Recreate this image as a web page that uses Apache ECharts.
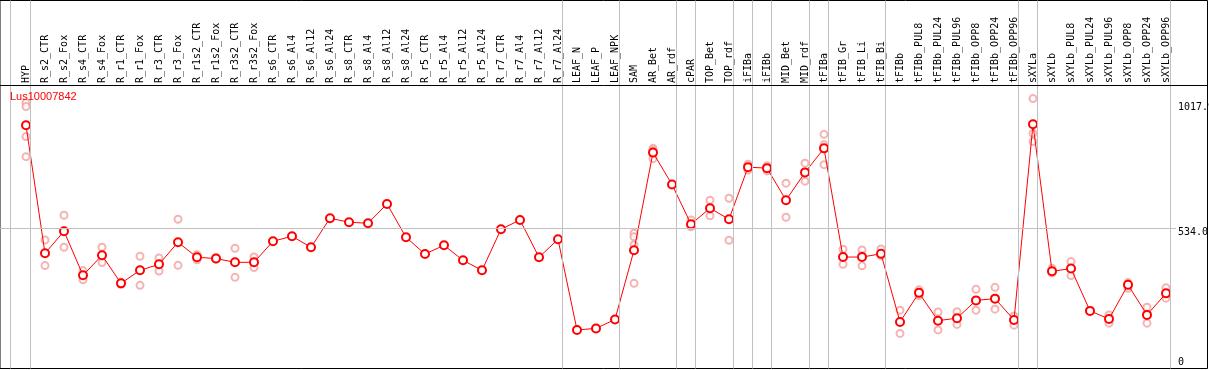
<!DOCTYPE html>
<html>
<head>
<meta charset="utf-8">
<script src="https://cdn.jsdelivr.net/npm/echarts@6/dist/echarts.min.js"></script>
<style>html,body{margin:0;padding:0;background:#fff}#c{width:1209px;height:370px}</style>
</head>
<body>
<div id="c"></div>
<script>
const categories = ["HYP","R_s2_CTR","R_s2_Fox","R_s4_CTR","R_s4_Fox","R_r1_CTR","R_r1_Fox","R_r3_CTR","R_r3_Fox","R_r1s2_CTR","R_r1s2_Fox","R_r3s2_CTR","R_r3s2_Fox","R_s6_CTR","R_s6_Al4","R_s6_Al12","R_s6_Al24","R_s8_CTR","R_s8_Al4","R_s8_Al12","R_s8_Al24","R_r5_CTR","R_r5_Al4","R_r5_Al12","R_r5_Al24","R_r7_CTR","R_r7_Al4","R_r7_Al12","R_r7_Al24","LEAF_N","LEAF_P","LEAF_NPK","SAM","AR_Bet","AR_rdf","cPAR","TOP_Bet","TOP_rdf","iFIBa","iFIBb","MID_Bet","MID_rdf","tFIBa","tFIB_Gr","tFIB_Li","tFIB_Bi","tFIBb","tFIBb_PUL8","tFIBb_PUL24","tFIBb_PUL96","tFIBb_OPP8","tFIBb_OPP24","tFIBb_OPP96","sXYLa","sXYLb","sXYLb_PUL8","sXYLb_PUL24","sXYLb_PUL96","sXYLb_OPP8","sXYLb_OPP24","sXYLb_OPP96"];

const meanValues = [945,434,522,346,426,314,366,390,478,418,413,398,398,482,502,458,574,558,554,631,498,431,466,406,366,530,567,418,490,128,134,170,446,836,709,550,614,570,778,774,646,757,853,419,419,432,160,276,165,175,246,253,168,949,362,373,204,172,308,188,274];

const replicateValues = [
  [1035,1020,900,820],[487,385],[586,458],[365,328],[458,397],[318,310],[422,306],[415,363],[570,386],[428,408],
  [416,410],[454,338],[419,377],[],[],[],[],[],[],[],
  [],[],[],[],[],[],[],[],[],[],
  [],[],[514,500,467,314],[853,845,812],[],[567,540],[646,584],[654,486],[790,766],[784,763],
  [714,578],[794,722],[909,867,788],[450,390],[447,425,384],[451,424],[207,114],[288,265],[200,128],[201,150],
  [290,207],[298,211],[184,147],[1052,913,880],[374,355],[401,345],[],[188,155],[317,294],[219,155],
  [296,255]
];

// index of the last category in each group (a separator follows it)
const groupEnds = [0,28,31,34,35,37,38,39,41,42,45,52,53,60];
const yTickValues = [0, 534, 1017.9];
const gridLineValue = 534;
const chartTitle = "Lus10007842";

// ---- layout constants ----
const step = 19, firstX = 26;
const plotTop = 85, plotBottomPx = 368.5, rightFrame = 1207.5;
const yMin = -26, yMax = 1106;

const gridLeft = firstX - step/2;
const gridWidth = categories.length * step;

const repData = [];
replicateValues.forEach((arr, i) => arr.forEach(v => repData.push([i, v])));

const sepData = [{xAxis: -0.826}].concat(groupEnds.map(i => ({xAxis: i + 0.226})));

const mono = 'DejaVu Sans Mono';
const chart = echarts.init(document.getElementById('c'), null, {renderer: 'canvas'});
chart.setOption({
  animation: false,
  backgroundColor: '#fff',
  title: {
    text: chartTitle, left: 10, top: 91.5, padding: 0,
    textStyle: {color: '#ff0000', fontSize: 11, fontWeight: 'normal', fontFamily: 'Liberation Sans'},
    z: 20
  },
  grid: [
    {left: gridLeft, width: gridWidth, top: plotTop, height: plotBottomPx - plotTop, outerBoundsMode: 'none', containLabel: false},
    {left: 0, width: rightFrame, top: 0.5, height: plotBottomPx - 0.5, outerBoundsMode: 'none', containLabel: false,
     show: true, borderColor: '#000', borderWidth: 1, backgroundColor: 'transparent'},
    {left: 0, width: 1176, top: plotTop, height: plotBottomPx - plotTop, outerBoundsMode: 'none', containLabel: false}
  ],
  xAxis: [
    {gridIndex: 0, type: 'category', data: categories, position: 'top', boundaryGap: true,
     axisLine: {show: false}, axisTick: {show: false}, splitLine: {show: false},
     axisLabel: {rotate: 90, margin: 2, interval: 0, fontFamily: mono, fontSize: 10, color: '#000', hideOverlap: false}},
    {gridIndex: 1, type: 'value', min: (0 - firstX)/step, max: (rightFrame - firstX)/step, show: false},
    {gridIndex: 2, type: 'value', min: 0, max: 1, show: false}
  ],
  yAxis: [
    {gridIndex: 0, type: 'value', min: yMin, max: yMax, position: 'right',
     axisLine: {show: false}, axisTick: {show: false}, splitLine: {show: false},
     axisLabel: {
       customValues: yTickValues, margin: 2.5, fontFamily: mono, fontSize: 10, color: '#000',
       showMinLabel: true, showMaxLabel: true, hideOverlap: false,
       formatter: function (v) {
         if (v === 0) return '0';
         if (v === gridLineValue) return '{d|' + v.toFixed(1) + '}';
         return v.toFixed(1);
       },
       rich: {d: {fontFamily: mono, fontSize: 10, color: '#000', padding: [8, 0, 0, 0]}}
     }},
    {gridIndex: 1, type: 'value', min: 0, max: 1, show: false},
    {gridIndex: 2, type: 'value', min: yMin, max: yMax, show: false}
  ],
  series: [
    {
      type: 'line', xAxisIndex: 1, yAxisIndex: 1, data: [], silent: true, symbol: 'none',
      markLine: {silent: true, symbol: 'none', label: {show: false},
        lineStyle: {color: '#c0c0c0', width: 1, type: 'solid'}, data: sepData}
    },
    {
      type: 'line', xAxisIndex: 2, yAxisIndex: 2, data: [], silent: true, symbol: 'none',
      markLine: {silent: true, symbol: 'none', label: {show: false},
        lineStyle: {color: '#c0c0c0', width: 1, type: 'solid'}, data: [{yAxis: gridLineValue}]}
    },
    {
      type: 'scatter', xAxisIndex: 0, yAxisIndex: 0, data: repData,
      symbol: 'emptyCircle', symbolSize: 7,
      itemStyle: {color: '#f2a0a0', borderColor: '#f2a0a0', borderWidth: 1.2}, z: 3
    },
    {
      type: 'line', xAxisIndex: 0, yAxisIndex: 0, data: meanValues,
      symbol: 'emptyCircle', symbolSize: 8, showAllSymbol: true,
      lineStyle: {color: '#ff0000', width: 1},
      itemStyle: {color: '#ff0000', borderColor: '#ff0000', borderWidth: 1.3}, z: 4
    }
  ],
  graphic: [
    {type: 'line', shape: {x1: 0, y1: plotTop + 0.5, x2: rightFrame, y2: plotTop + 0.5},
     style: {stroke: '#000', lineWidth: 1}, silent: true, z: 10}
  ]
});
</script>
</body>
</html>
